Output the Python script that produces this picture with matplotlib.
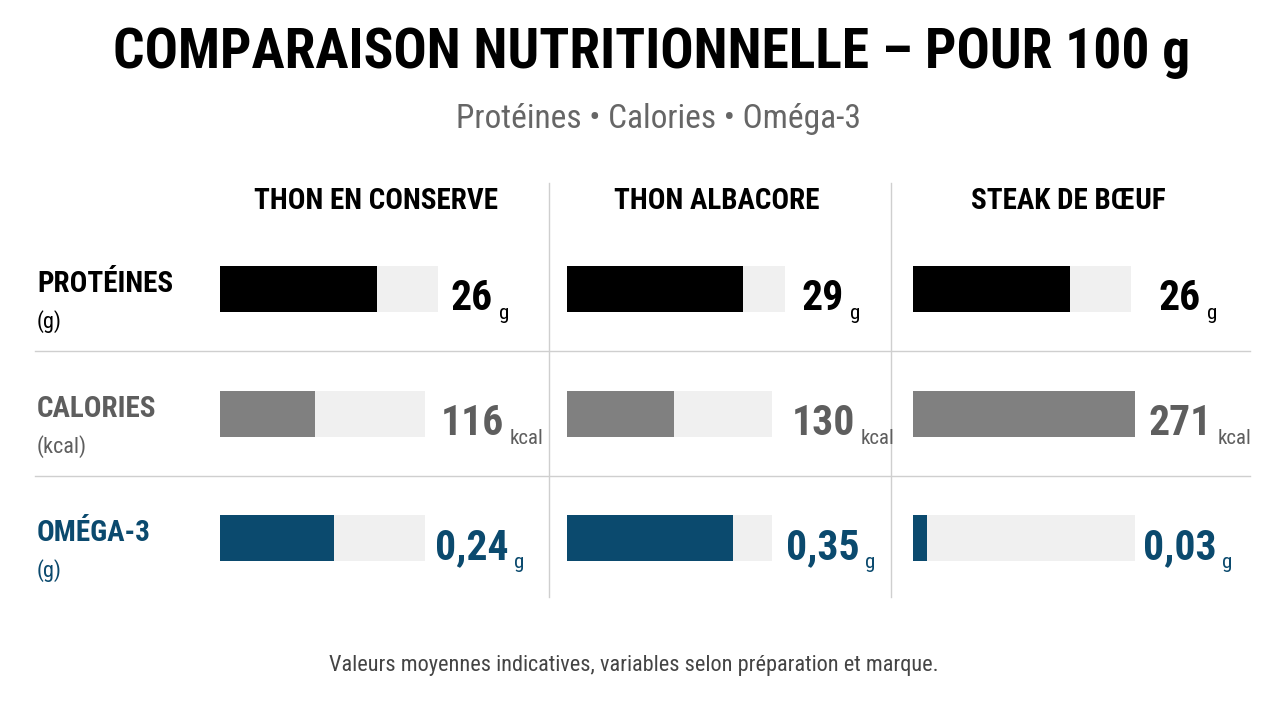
import matplotlib.pyplot as plt

# data
foods = ["THON EN CONSERVE", "THON ALBACORE", "STEAK DE BŒUF"]
metrics = ["PROTÉINES", "CALORIES", "OMÉGA-3"]
metric_units = ["(g)", "(kcal)", "(g)"]
value_units = ["g", "kcal", "g"]
proteines = [26, 29, 26]
calories = [116, 130, 271]
omega3 = [0.24, 0.35, 0.03]
labels = [["26", "29", "26"], ["116", "130", "271"], ["0,24", "0,35", "0,03"]]
scale_max = [36, 266, 0.46]   # value at a 218 px track

values = [proteines, calories, omega3]
bar_colors = ["#000000", "#808080", "#0b4a6e"]
text_colors = ["#000000", "#5e5e5e", "#0b4a6e"]
track_color = "#f0f0f0"

W, H = 1280, 702
FONT = ["Roboto Condensed", "DejaVu Sans"]
ST = "condensed"

fig = plt.figure(figsize=(W / 100, H / 100), dpi=100)
fig.patch.set_facecolor("white")
bg = fig.add_axes([0, 0, 1, 1])
bg.set_xlim(0, W)
bg.set_ylim(H, 0)
bg.axis("off")

bg.text(652, 53, "COMPARAISON NUTRITIONNELLE – POUR 100 g", ha="center", va="center",
        fontsize=40, fontweight="bold", family=FONT, stretch=ST, color="black")
bg.text(658, 119, "Protéines • Calories • Oméga-3", ha="center", va="center",
        fontsize=24, family=FONT, stretch=ST, color="#666666")

col_x = [220, 567, 913]
num_dx = [252, 256, 267]
head_x = [376, 717, 1068]
row_y = [289, 414, 538]
track_ws = [[218, 218, 218], [205, 205, 222], [205, 205, 222]]
bar_h = 46

for j, name in enumerate(foods):
    bg.text(head_x[j], 201, name, ha="center", va="center", fontsize=21,
            fontweight="bold", family=FONT, stretch=ST, color="black")

for x in [549, 891]:
    bg.plot([x, x], [183, 597], color="#cfcfcf", lw=1)
for y in [351, 476]:
    bg.plot([35, 1250], [y, y], color="#cfcfcf", lw=1)

for i, m in enumerate(metrics):
    bg.text(37, row_y[i] - 5, m, ha="left", va="center", fontsize=21,
            fontweight="bold", family=FONT, stretch=ST, color=text_colors[i])
    bg.text(37, row_y[i] + 33, metric_units[i], ha="left", va="center", fontsize=16,
            family=FONT, stretch=ST, color=text_colors[i])
    for j in range(len(foods)):
        x0 = col_x[j]
        tw = track_ws[i][j]
        y0 = row_y[i] - bar_h / 2
        xmax = scale_max[i] * tw / 218
        ax = fig.add_axes([x0 / W, 1 - (y0 + bar_h) / H, tw / W, bar_h / H])
        ax.barh(0, xmax, height=1, color=track_color)
        ax.barh(0, values[i][j], height=1, color=bar_colors[i])
        ax.set_xlim(0, xmax)
        ax.set_ylim(-0.5, 0.5)
        ax.axis("off")
        t = bg.text(x0 + num_dx[j], row_y[i] + 21, labels[i][j], ha="center",
                    va="baseline", fontsize=30, fontweight="bold", family=FONT,
                    stretch=ST, color=text_colors[i])
        bg.annotate(value_units[i], xy=(1, 0), xycoords=t, xytext=(4, 0),
                    textcoords="offset points", ha="left", va="baseline",
                    fontsize=15, family=FONT, stretch=ST, color=text_colors[i])

bg.text(634, 665, "Valeurs moyennes indicatives, variables selon préparation et marque.",
        ha="center", va="center", fontsize=16, family=FONT, stretch=ST, color="#444444")

fig.savefig("out.png", dpi=100, facecolor="white")
